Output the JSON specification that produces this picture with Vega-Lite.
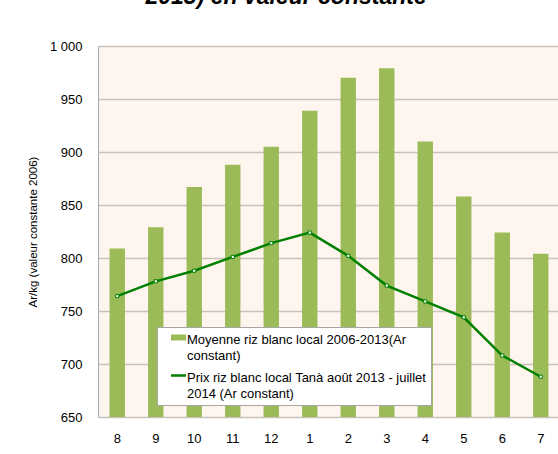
{
  "$schema": "https://vega.github.io/schema/vega-lite/v6.json",
  "width": 462,
  "height": 371,
  "autosize": {"type": "none"},
  "padding": {"left": 98, "top": 46, "right": 0, "bottom": 37},
  "background": "white",
  "title": {
    "text": "2013) en valeur constante",
    "font": "Liberation Sans",
    "fontSize": 23,
    "fontWeight": "bold",
    "fontStyle": "italic",
    "color": "black",
    "anchor": "start",
    "dx": 118,
    "offset": 13,
    "baseline": "alphabetic"
  },
  "config": {
    "view": {"fill": "#FEF5EE", "stroke": "#A6A6A6", "strokeWidth": 1},
    "font": "Liberation Sans"
  },
  "data": {
    "values": [
      {"mois": "8", "moyenne": 809, "prix": 764},
      {"mois": "9", "moyenne": 829, "prix": 778},
      {"mois": "10", "moyenne": 867, "prix": 788},
      {"mois": "11", "moyenne": 888, "prix": 801},
      {"mois": "12", "moyenne": 905, "prix": 814},
      {"mois": "1", "moyenne": 939, "prix": 824},
      {"mois": "2", "moyenne": 970, "prix": 802},
      {"mois": "3", "moyenne": 979, "prix": 774},
      {"mois": "4", "moyenne": 910, "prix": 759},
      {"mois": "5", "moyenne": 858, "prix": 744},
      {"mois": "6", "moyenne": 824, "prix": 708},
      {"mois": "7", "moyenne": 804, "prix": 688}
    ]
  },
  "encoding": {
    "x": {
      "field": "mois",
      "type": "ordinal",
      "sort": null,
      "scale": {"paddingInner": 0.6, "paddingOuter": 0.3},
      "axis": {
        "title": null,
        "labelAngle": 0,
        "labelFont": "Liberation Sans",
        "labelFontSize": 13,
        "labelColor": "black",
        "labelPadding": 15,
        "ticks": false,
        "domain": false
      }
    }
  },
  "layer": [
    {
      "mark": {"type": "bar"},
      "encoding": {
        "y": {
          "field": "moyenne",
          "type": "quantitative",
          "scale": {"domain": [650, 1000], "zero": false, "nice": false},
          "axis": {
            "title": "Ar/kg (valeur constante 2006)",
            "titleFont": "Liberation Sans",
            "titleFontSize": 11.5,
            "titleFontWeight": "normal",
            "titleColor": "black",
            "titlePadding": 11,
            "values": [650, 700, 750, 800, 850, 900, 950, 1000],
            "labelExpr": "replace(format(datum.value, ','), ',', ' ')",
            "labelFont": "Liberation Sans",
            "labelFontSize": 13,
            "labelColor": "black",
            "labelPadding": 16,
            "ticks": false,
            "domain": false,
            "gridColor": "#C8C2BC",
            "gridWidth": 1.5
          }
        },
        "y2": {"datum": 650},
        "color": {
          "datum": "Moyenne riz blanc local 2006-2013(Ar constant)",
          "scale": {
            "domain": [
              "Moyenne riz blanc local 2006-2013(Ar constant)",
              "Prix riz blanc local Tanà août 2013 - juillet 2014 (Ar constant)"
            ],
            "range": ["#9BBB59", "#008000"]
          },
          "legend": {
            "orient": "none",
            "legendX": 59,
            "legendY": 281,
            "title": null,
            "fillColor": "white",
            "strokeColor": "#A6A6A6",
            "padding": 4,
            "symbolOffset": 11,
            "labelFont": "Liberation Sans",
            "labelFontSize": 13,
            "labelColor": "black",
            "labelLimit": 400,
            "labelOffset": 2,
            "rowPadding": 6,
            "symbolSize": 225,
            "labelExpr": "datum.value == 'Moyenne riz blanc local 2006-2013(Ar constant)' ? ['Moyenne riz blanc local 2006-2013(Ar', 'constant)'] : ['Prix riz blanc local Tanà août 2013 - juillet', '2014 (Ar constant)']",
            "encode": {
              "symbols": {
                "update": {
                  "shape": {"signal": "datum.value == 'Moyenne riz blanc local 2006-2013(Ar constant)' ? 'M-1,-0.4H1V0.4H-1Z' : 'stroke'"},
                  "fill": {"signal": "datum.value == 'Moyenne riz blanc local 2006-2013(Ar constant)' ? '#9BBB59' : 'transparent'"},
                  "stroke": {"signal": "datum.value == 'Moyenne riz blanc local 2006-2013(Ar constant)' ? '#9BBB59' : '#008000'"},
                  "strokeWidth": {"signal": "datum.value == 'Moyenne riz blanc local 2006-2013(Ar constant)' ? 0 : 2.5"}
                }
              },
              "labels": {
                "update": {
                  "dy": {"value": 2},
                  "lineHeight": {"value": 16}
                }
              }
            }
          }
        }
      }
    },
    {
      "mark": {"type": "line", "strokeWidth": 2.5},
      "encoding": {
        "y": {"field": "prix", "type": "quantitative"},
        "color": {"datum": "Prix riz blanc local Tanà août 2013 - juillet 2014 (Ar constant)"}
      }
    },
    {
      "mark": {"type": "point", "shape": "square", "size": 10, "filled": true, "fill": "white", "stroke": "#008000", "strokeWidth": 1, "opacity": 1},
      "encoding": {
        "y": {"field": "prix", "type": "quantitative"}
      }
    }
  ]
}
